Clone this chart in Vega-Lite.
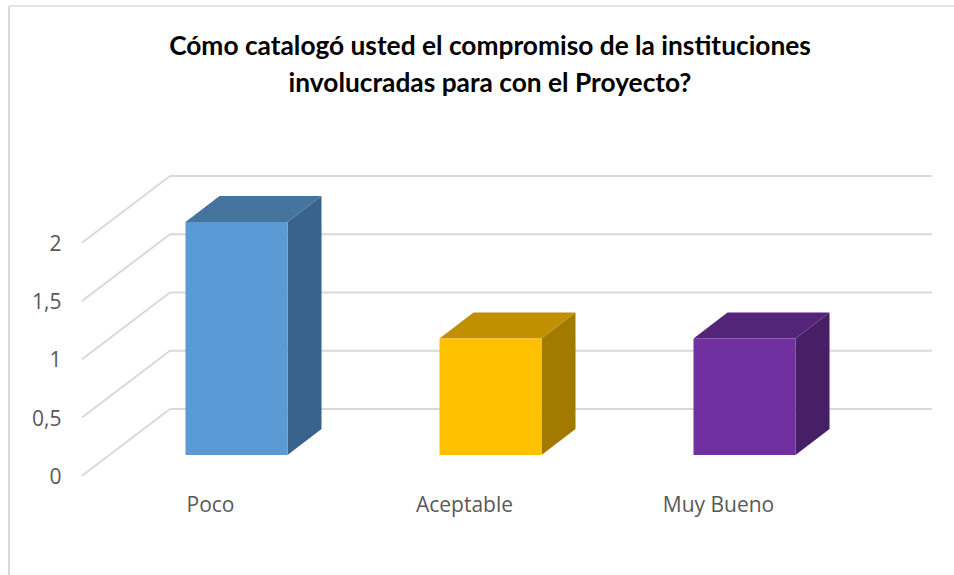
{
"$schema":"https://vega.github.io/schema/vega-lite/v6.json",
"width":945,"height":569,
"autosize":{"type":"none"},
"padding":{"left":9,"top":6,"right":0,"bottom":0},
"background":"white",
"view":{"stroke":null,"fill":"white"},
"title":{"text":["Cómo catalogó usted el compromiso de la instituciones","involucradas para con el Proyecto?"],"font":"Lato","fontWeight":"bold","fontSize":26.3,"color":"#000000","lineHeight":37,"anchor":"start","frame":"group","orient":"top","offset":-92,"align":"center","dx":481},
"datasets":{
"barras":[{"categoria":"Poco","valor":2},{"categoria":"Aceptable","valor":1},{"categoria":"Muy Bueno","valor":1}],
"niveles":[{"nivel":0},{"nivel":0.5},{"nivel":1},{"nivel":1.5},{"nivel":2}]
},
"layer":[
{"data":{"values":[{"marco":"izquierda"}]},
 "mark":{"type":"rule","color":"#D9D9D9","strokeWidth":2},
 "encoding":{"x":{"datum":-0.8957,"type":"quantitative","scale":{"domain":[-0.8957,2.8248],"nice":false,"zero":false},"axis":null}}},
{"data":{"values":[{"marco":"arriba"}]},
 "mark":{"type":"rule","color":"#E3E3E3","strokeWidth":2},
 "encoding":{"y":{"datum":3.854,"type":"quantitative","scale":{"domain":[-1.03,3.854],"nice":false,"zero":false},
  "axis":{"orient":"left","values":[0,0.5,1,1.5,2],"title":null,"grid":false,"domain":false,"ticks":false,"offset":-52,"labelPadding":0,"labelOffset":22.5,"labelFont":"Open Sans","labelFontSize":21,"labelColor":"#595959","labelAlign":"right","labelExpr":"replace(format(datum.value,''),'.',',')"}}}},
{"data":{"name":"niveles"},
 "transform":[{"calculate":"datum.nivel+0.3948","as":"fondo"},{"calculate":"-0.2618","as":"xFondo"},{"calculate":"2.738","as":"xFin"}],
 "mark":{"type":"rule","color":"#D9D9D9","strokeWidth":2},
 "encoding":{
  "x":{"field":"xFondo","type":"quantitative","scale":{"domain":[-0.8957,2.8248],"nice":false,"zero":false},"axis":null},
  "x2":{"field":"xFin"},
  "y":{"field":"fondo","type":"quantitative","scale":{"domain":[-1.03,3.854],"nice":false,"zero":false}}
 }},
{"data":{"name":"niveles"},
 "transform":[{"calculate":"datum.nivel+0.3948","as":"fondo"},{"calculate":"datum.nivel-0.1777","as":"frente"},{"calculate":"-0.6083","as":"xFrente"},{"calculate":"-0.2618","as":"xFondo"}],
 "mark":{"type":"rule","color":"#D9D9D9","strokeWidth":2},
 "encoding":{
  "x":{"field":"xFrente","type":"quantitative","scale":{"domain":[-0.8957,2.8248],"nice":false,"zero":false},"axis":null},
  "x2":{"field":"xFondo"},
  "y":{"field":"frente","type":"quantitative","scale":{"domain":[-1.03,3.854],"nice":false,"zero":false}},
  "y2":{"field":"fondo"}
 }},
{"data":{"name":"barras"},
 "transform":[{"calculate":"indexof(['Poco','Aceptable','Muy Bueno'],datum.categoria)","as":"i"},{"calculate":"[0,1]","as":"d"},{"flatten":["d"]},{"calculate":"datum.i+0.2008+datum.d*0.1339","as":"xs"},{"calculate":"datum.d*0.2232","as":"y0"},{"calculate":"datum.valor+datum.d*0.2232","as":"y1"}],
 "mark":{"type":"area","orient":"vertical","interpolate":"linear"},
 "encoding":{
  "x":{"field":"xs","type":"quantitative","scale":{"domain":[-0.8957,2.8248],"nice":false,"zero":false},"axis":null},
  "y":{"field":"y1","type":"quantitative","scale":{"domain":[-1.03,3.854],"nice":false,"zero":false}},
  "y2":{"field":"y0"},
  "color":{"field":"categoria","type":"nominal","scale":{"domain":["Poco","Aceptable","Muy Bueno"],"range":["#39638A","#A37A00","#471F66"]},"legend":null}
 }},
{"data":{"name":"barras"},
 "transform":[{"calculate":"indexof(['Poco','Aceptable','Muy Bueno'],datum.categoria)","as":"i"},{"calculate":"[0,1]","as":"d"},{"flatten":["d"]},{"calculate":"datum.i-0.2008+datum.d*0.1339","as":"x0"},{"calculate":"datum.i+0.2008+datum.d*0.1339","as":"x1"},{"calculate":"datum.valor+datum.d*0.2232","as":"yt"}],
 "mark":{"type":"area","orient":"horizontal","interpolate":"linear"},
 "encoding":{
  "y":{"field":"yt","type":"quantitative","scale":{"domain":[-1.03,3.854],"nice":false,"zero":false}},
  "x":{"field":"x0","type":"quantitative","scale":{"domain":[-0.8957,2.8248],"nice":false,"zero":false},"axis":null},
  "x2":{"field":"x1"},
  "color":{"field":"categoria","type":"nominal","scale":{"domain":["Poco","Aceptable","Muy Bueno"],"range":["#45749F","#C09000","#542478"]},"legend":null}
 }},
{"data":{"name":"barras"},
 "transform":[{"calculate":"indexof(['Poco','Aceptable','Muy Bueno'],datum.categoria)","as":"i"},{"calculate":"datum.i-0.2008","as":"x0"},{"calculate":"datum.i+0.2008","as":"x1"}],
 "mark":{"type":"bar"},
 "encoding":{
  "x":{"field":"x0","type":"quantitative","scale":{"domain":[-0.8957,2.8248],"nice":false,"zero":false},"axis":null},
  "x2":{"field":"x1"},
  "y":{"field":"valor","type":"quantitative","scale":{"domain":[-1.03,3.854],"nice":false,"zero":false}},
  "y2":{"datum":0},
  "color":{"field":"categoria","type":"nominal","scale":{"domain":["Poco","Aceptable","Muy Bueno"],"range":["#5B9BD5","#FFC000","#7030A0"]},"legend":null}
 }},
{"data":{"name":"barras"},
 "transform":[{"calculate":"indexof(['Poco','Aceptable','Muy Bueno'],datum.categoria)-0.1024","as":"xt"},{"calculate":"-0.44","as":"yt"}],
 "mark":{"type":"text","font":"Open Sans","fontSize":21,"color":"#595959","align":"center","baseline":"middle"},
 "encoding":{
  "x":{"field":"xt","type":"quantitative","scale":{"domain":[-0.8957,2.8248],"nice":false,"zero":false},"axis":null},
  "y":{"field":"yt","type":"quantitative","scale":{"domain":[-1.03,3.854],"nice":false,"zero":false}},
  "text":{"field":"categoria","type":"nominal"}
 }}
],
"resolve":{"scale":{"color":"independent"}}
}
